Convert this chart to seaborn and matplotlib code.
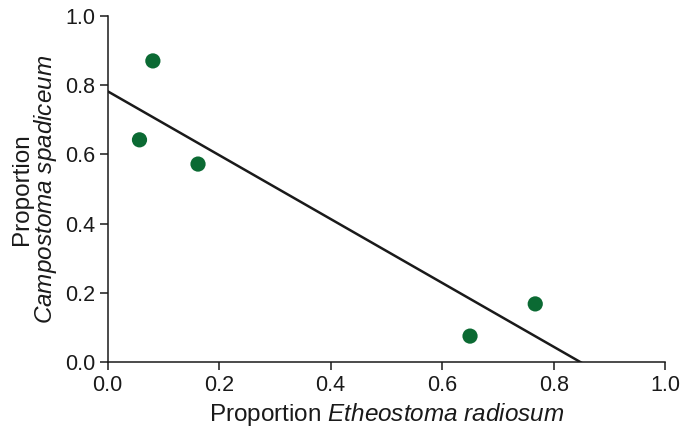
import numpy as np
import pandas as pd
import matplotlib
matplotlib.use("Agg")
import matplotlib.pyplot as plt
import seaborn as sns

# values
etheostoma = [0.081, 0.057, 0.162, 0.650, 0.767]
campostoma = [0.870, 0.642, 0.572, 0.075, 0.168]
ticks = [0.0, 0.2, 0.4, 0.6, 0.8, 1.0]

df = pd.DataFrame({"etheostoma": etheostoma, "campostoma": campostoma})

sns.set_theme(style="ticks")
plt.rcParams["font.family"] = ["Liberation Sans", "DejaVu Sans"]
plt.rcParams["mathtext.fontset"] = "custom"
plt.rcParams["mathtext.rm"] = "Liberation Sans"
plt.rcParams["mathtext.it"] = "Liberation Sans:italic"

fig = plt.figure(figsize=(6.95, 4.30), dpi=100)
ax = fig.add_axes([0.155, 0.158, 0.802, 0.805])

ax.set_xlim(0, 1)
ax.set_ylim(0, 1)

GREEN = "#0b6a33"
sns.regplot(data=df, x="etheostoma", y="campostoma", ax=ax, ci=None, truncate=False,
            scatter_kws=dict(s=120, color=GREEN, edgecolor="none", alpha=1, zorder=3),
            line_kws=dict(color="#1a1a1a", linewidth=1.8, zorder=2))

ax.set_xlim(0, 1)
ax.set_ylim(0, 1)
ax.set_xticks(ticks)
ax.set_yticks(ticks)
ax.set_xticklabels([f"{t:.1f}" for t in ticks])
ax.set_yticklabels([f"{t:.1f}" for t in ticks])

sns.despine(ax=ax)
for s in ["left", "bottom"]:
    ax.spines[s].set_linewidth(1.1)
    ax.spines[s].set_color("#1a1a1a")
ax.tick_params(axis="both", direction="out", length=6, width=1.1, color="#1a1a1a",
               labelsize=15.5, labelcolor="#1a1a1a", pad=3)

ax.set_xlabel(r"Proportion $\it{Etheostoma\ radiosum}$", fontsize=17.5, color="#1a1a1a", labelpad=4)
ax.set_ylabel("Proportion\n" + r"$\it{Campostoma\ spadiceum}$", fontsize=17.5, color="#1a1a1a",
              labelpad=4, linespacing=0.95)

fig.savefig("out.png", dpi=100, facecolor="white")
